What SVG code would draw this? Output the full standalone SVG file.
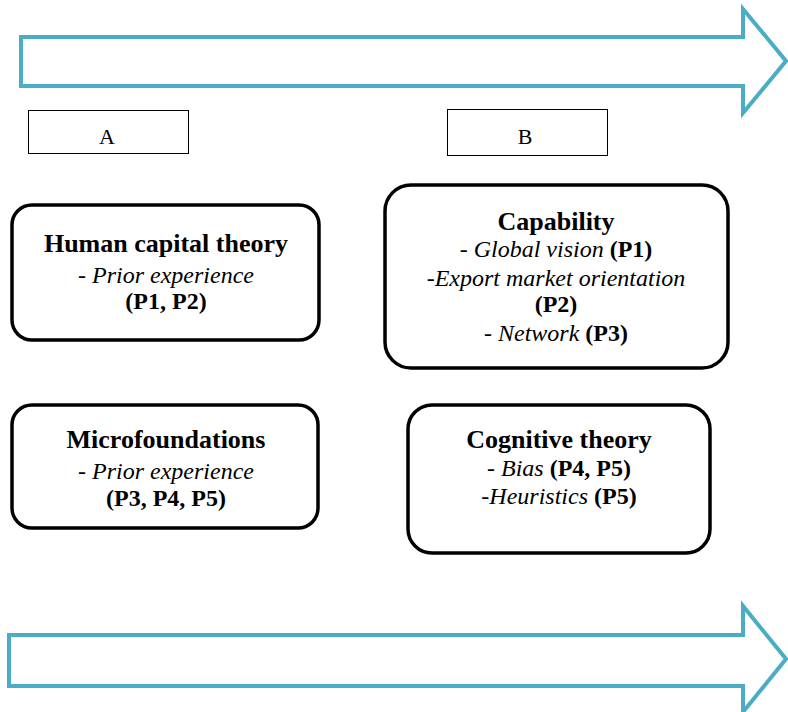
<svg xmlns="http://www.w3.org/2000/svg" width="788" height="712" viewBox="0 0 788 712">
<style>
.arrow{fill:none;stroke:#4BACC6;stroke-width:4;stroke-linejoin:miter}
.lbl{fill:#fff;stroke:#000;stroke-width:1}
.node{fill:#fff;stroke:#000;stroke-width:3.5}
text{font-family:'Liberation Serif','Times New Roman',serif;fill:#000;text-anchor:middle}
.t{font-size:26px;font-weight:bold}
.s{font-size:24px}
.i{font-style:italic}
.b{font-weight:bold}
.L{font-size:22px}
</style>
<rect width="788" height="712" fill="#fff"/>
<g id="connectors">
<polygon class="arrow" points="21,37 743,37 743,9 786,61 743,113 743,86 21,86"/>
<polygon class="arrow" points="9,635 743,635 743,606 786,659 743,712 743,686 9,686"/>
</g>
<g id="labelA"><rect class="lbl" x="28.5" y="110.5" width="160" height="43"/><text class="L" x="107" y="144">A</text></g>
<g id="labelB"><rect class="lbl" x="447.5" y="109.5" width="160" height="46"/><text class="L" x="525" y="144">B</text></g>
<g id="human">
<rect class="node" x="12" y="205" width="307" height="135" rx="20"/>
<text class="t" x="166" y="252">Human capital theory</text>
<text class="s" x="166" y="283">- <tspan class="i">Prior experience</tspan></text>
<text class="s b" x="166" y="309">(P1, P2)</text>
</g>
<g id="capability">
<rect class="node" x="385" y="185" width="343" height="183" rx="26"/>
<text class="t" x="556" y="230">Capability</text>
<text class="s" x="556" y="257">- <tspan class="i">Global vision</tspan> <tspan class="b">(P1)</tspan></text>
<text class="s i" x="556" y="286">-Export market orientation</text>
<text class="s b" x="556" y="312">(P2)</text>
<text class="s" x="556" y="341">- <tspan class="i">Network</tspan> <tspan class="b">(P3)</tspan></text>
</g>
<g id="micro">
<rect class="node" x="12" y="405" width="306" height="123" rx="20"/>
<text class="t" x="166" y="448">Microfoundations</text>
<text class="s" x="166" y="479">- <tspan class="i">Prior experience</tspan></text>
<text class="s b" x="166" y="506">(P3, P4, P5)</text>
</g>
<g id="cognitive">
<rect class="node" x="408" y="405" width="302" height="148" rx="24"/>
<text class="t" x="559" y="448">Cognitive theory</text>
<text class="s" x="559" y="476">- <tspan class="i">Bias</tspan> <tspan class="b">(P4, P5)</tspan></text>
<text class="s" x="559" y="504"><tspan class="i">-Heuristics</tspan> <tspan class="b">(P5)</tspan></text>
</g>
</svg>
